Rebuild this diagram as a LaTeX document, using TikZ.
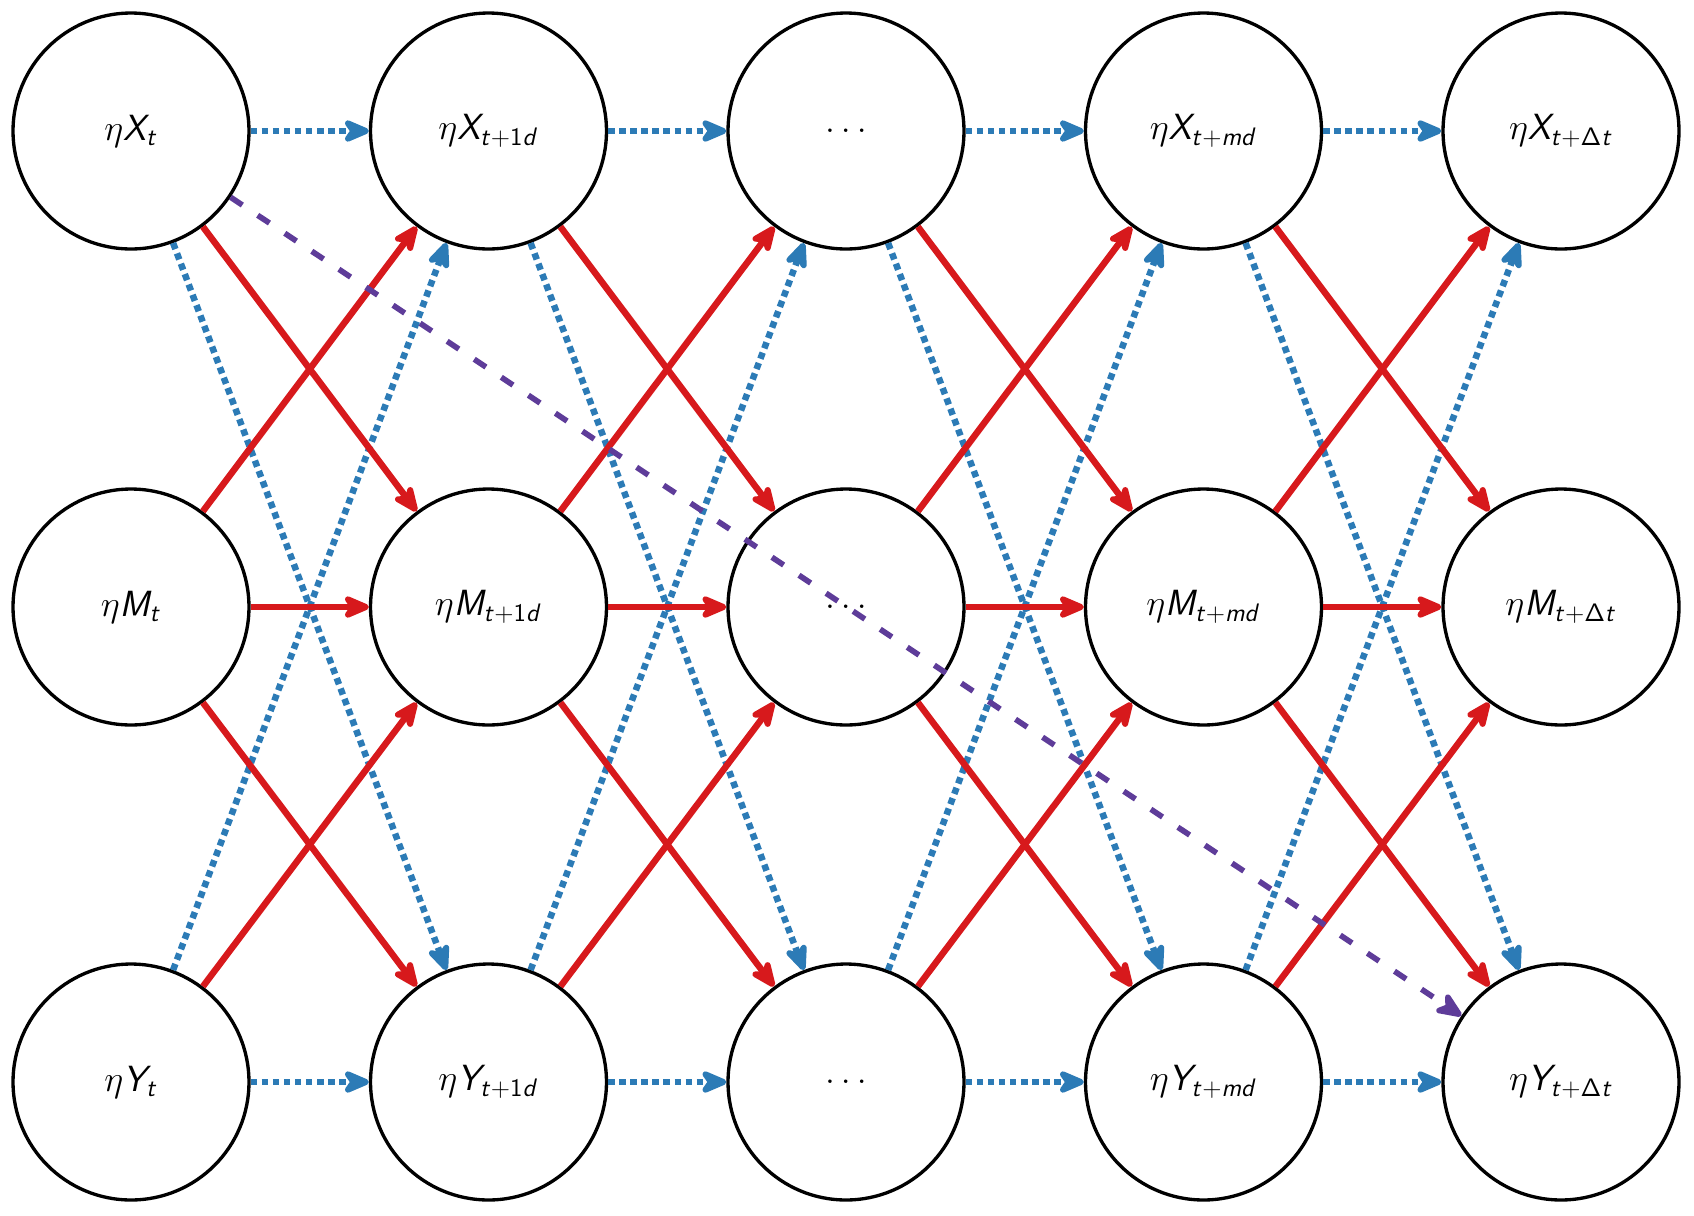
\documentclass[tikz,border=0pt]{standalone}
\usetikzlibrary{arrows.meta}
\DeclareMathAlphabet{\mathsfit}{OT1}{cmss}{m}{sl}
\DeclareMathAlphabet{\mathsfup}{OT1}{cmss}{m}{n}
\definecolor{myred}{HTML}{D7191C}
\definecolor{myblue}{HTML}{2C7BB6}
\definecolor{mypurple}{HTML}{5E3C99}
\newcommand{\myXs}{\mathsfit{X}}
\newcommand{\myMs}{\mathsfit{M}}
\newcommand{\myYs}{\mathsfit{Y}}
\newcommand{\mySa}{\mathsfit{t}}
\newcommand{\mySb}{\mathsfit{t}+\mathsfup{1}\mathsfit{d}}
\newcommand{\mySm}{\mathsfit{t}+\mathsfit{md}}
\newcommand{\mySd}{\mathsfit{t}+\mathsfup{\Delta}\mathsfit{t}}
\tikzset{
  nd/.style={circle, draw, line width=1.9pt, minimum size=4.72cm, inner sep=0pt,
             font=\fontsize{21}{25}\selectfont},
  tip/.style={-{Stealth[length=19pt,width=16pt,inset=5.5pt,round]}},
  redarr/.style={draw=myred, line width=3.7pt, tip},
  bluearr/.style={draw=myblue, line width=3.7pt, dash pattern=on 3.7pt off 2.6pt, tip},
  purparr/.style={draw=mypurple, line width=3.2pt, dash pattern=on 8pt off 10.5pt, tip}
}
\begin{document}
\begin{tikzpicture}[x=0.02cm,y=-0.02cm]
\useasboundingbox (0,0) rectangle (1694,1215);
% top row
\node[nd] (x0) at (131,131) {$\eta\myXs_{\mySa}$};
\node[nd] (x1) at (488.5,131) {$\eta\myXs_{\mySb}$};
\node[nd] (x2) at (846,131) {$\ldots$};
\node[nd] (x3) at (1203.5,131) {$\eta\myXs_{\mySm}$};
\node[nd] (x4) at (1561,131) {$\eta\myXs_{\mySd}$};
% middle row
\node[nd] (m0) at (131,607) {$\eta\myMs_{\mySa}$};
\node[nd] (m1) at (488.5,607) {$\eta\myMs_{\mySb}$};
\node[nd] (m2) at (846,607) {$\ldots$};
\node[nd] (m3) at (1203.5,607) {$\eta\myMs_{\mySm}$};
\node[nd] (m4) at (1561,607) {$\eta\myMs_{\mySd}$};
% bottom row
\node[nd] (y0) at (131,1082) {$\eta\myYs_{\mySa}$};
\node[nd] (y1) at (488.5,1082) {$\eta\myYs_{\mySb}$};
\node[nd] (y2) at (846,1082) {$\ldots$};
\node[nd] (y3) at (1203.5,1082) {$\eta\myYs_{\mySm}$};
\node[nd] (y4) at (1561,1082) {$\eta\myYs_{\mySd}$};
% connectors
\foreach \i in {0,...,3}{
  \pgfmathtruncatemacro{\j}{\i+1}
  \draw[bluearr] (x\i) -- (x\j);
  \draw[bluearr] (y\i) -- (y\j);
  \draw[bluearr] (x\i) -- (y\j);
  \draw[bluearr] (y\i) -- (x\j);
  \draw[redarr] (m\i) -- (m\j);
  \draw[redarr] (x\i) -- (m\j);
  \draw[redarr] (m\i) -- (x\j);
  \draw[redarr] (m\i) -- (y\j);
  \draw[redarr] (y\i) -- (m\j);
}
\draw[purparr] (x0) -- (y4);
\end{tikzpicture}
\end{document}
